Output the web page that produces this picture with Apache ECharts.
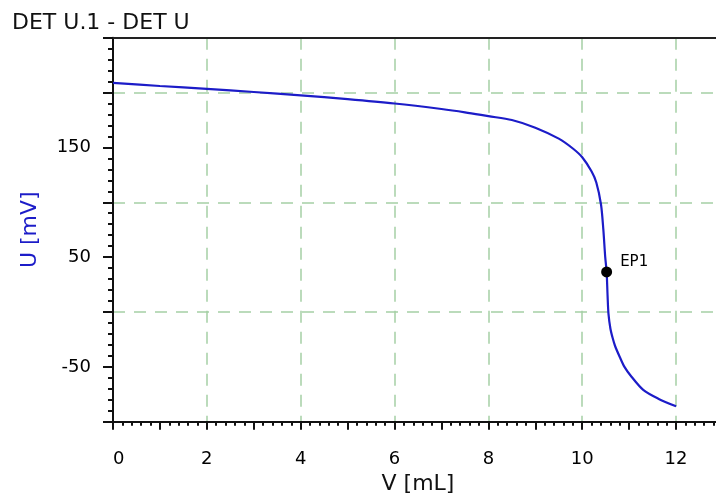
<!DOCTYPE html>
<html>
<head>
<meta charset="utf-8">
<script src="https://cdn.jsdelivr.net/npm/echarts@6/dist/echarts.min.js"></script>
<style>
html,body{margin:0;padding:0;background:#fff;}
#chart{width:716px;height:499px;}
</style>
</head>
<body>
<div id="chart"></div>
<script>
// Titration curve data (V in mL, U in mV)
const volumes = [0, 1, 2, 3, 4, 5, 6, 7, 7.5, 8, 8.5, 9, 9.5, 9.8, 10, 10.2, 10.3, 10.4, 10.45, 10.49, 10.52, 10.54, 10.56, 10.6, 10.65, 10.7, 10.8, 10.9, 11.05, 11.3, 11.62, 12.0];
const potentials = [208.8, 206, 203.4, 200.5, 197.5, 194, 190, 185, 182, 178.5, 175, 168, 158, 149, 141, 128, 118, 98, 75, 50, 36.5, 15, -2, -15, -24, -31, -41, -50, -59, -71, -79, -86];
const endPointV = [10.52];
const endPointU = [36.5];
const endPointLabels = ['EP1'];
const title = 'DET U.1 - DET U';
const xName = 'V [mL]';
const yName = 'U [mV]';
const yLabelValues = [150, 50, -50];

const curve = volumes.map((v, i) => [v, potentials[i]]);
const eps = endPointV.map((v, i) => ({ value: [v, endPointU[i]], name: endPointLabels[i] }));

const FONT = 'DejaVu Sans';
const BLUE = '#1c1cc8';
const GRIDC = 'rgb(165,208,165)';

const chart = echarts.init(document.getElementById('chart'), null, { renderer: 'canvas' });
chart.setOption({
  animation: false,
  backgroundColor: '#fff',
  title: {
    text: title, left: 7, top: 7,
    textStyle: { fontFamily: FONT, fontSize: 22, fontWeight: 'normal', color: '#111' }
  },
  grid: { left: 113, top: 37.7, width: 610, height: 384, containLabel: false, outerBoundsMode: 'none' },
  xAxis: [{
    type: 'value', min: 0, max: 13, interval: 1, position: 'bottom',
    name: xName, nameLocation: 'middle', nameGap: 50,
    nameTextStyle: { fontFamily: FONT, fontSize: 22, color: '#111' },
    axisLine: { show: true, onZero: false, lineStyle: { color: '#111', width: 2 } },
    axisTick: { show: true, inside: false, length: 8, lineStyle: { color: '#111', width: 2 } },
    minorTick: { show: true, splitNumber: 5, length: 4, lineStyle: { color: '#111', width: 2 } },
    axisLabel: {
      fontFamily: FONT, fontSize: 18, color: '#000', margin: 29,
      alignMinLabel: 'left',
      formatter: v => (Math.round(v) % 2 === 0 && v <= 12) ? String(v) : ''
    },
    splitLine: { show: false }
  }, {
    type: 'value', min: 0, max: 13, interval: 2, position: 'top',
    axisLine: { show: true, onZero: false, lineStyle: { color: '#222', width: 2 } },
    axisTick: { show: false }, axisLabel: { show: false },
    splitLine: { show: true, lineStyle: { color: GRIDC, width: 1.5, type: [12, 9] } }
  }],
  yAxis: [{
    type: 'value', min: -100, max: 250, interval: 50, position: 'left',
    name: yName, nameLocation: 'middle', nameGap: 72, nameRotate: 90,
    nameTextStyle: { fontFamily: FONT, fontSize: 22, color: BLUE },
    axisLine: { show: true, onZero: false, lineStyle: { color: '#111', width: 2 } },
    axisTick: { show: true, inside: false, length: 10, lineStyle: { color: '#111', width: 2 } },
    minorTick: { show: true, splitNumber: 5, length: 5, lineStyle: { color: '#111', width: 2 } },
    axisLabel: {
      fontFamily: FONT, fontSize: 18, color: '#000', margin: 22,
      formatter: v => yLabelValues.indexOf(v) >= 0 ? String(v) : ''
    },
    splitLine: { show: false }
  }, {
    type: 'value', min: -100, max: 250, interval: 100, position: 'right',
    axisLine: { show: false }, axisTick: { show: false }, axisLabel: { show: false },
    splitLine: { show: true, lineStyle: { color: GRIDC, width: 1.5, type: [12, 9] } }
  }],
  series: [{
    type: 'line', xAxisIndex: 0, yAxisIndex: 0,
    data: curve, showSymbol: false, smooth: 0.3,
    lineStyle: { color: BLUE, width: 2.2 }, z: 3
  }, {
    type: 'scatter', xAxisIndex: 0, yAxisIndex: 0,
    data: eps, symbol: 'circle', symbolSize: 11,
    itemStyle: { color: '#000', opacity: 1 }, z: 4,
    label: {
      show: true, position: 'right', distance: 8, offset: [0, -10],
      formatter: p => p.name,
      fontFamily: FONT, fontSize: 15, color: '#000'
    }
  }]
});
</script>
</body>
</html>
